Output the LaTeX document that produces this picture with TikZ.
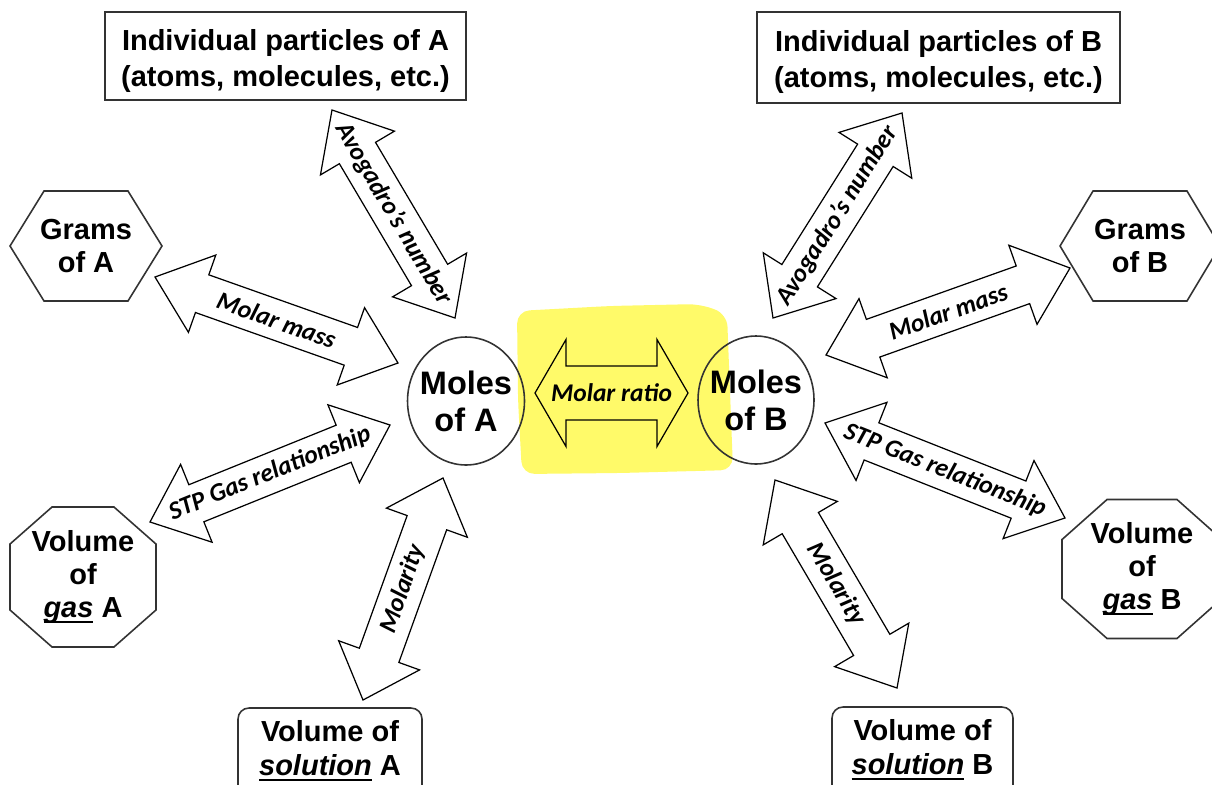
\documentclass[tikz,border=0pt]{standalone}
\usepackage{fontspec}
\usetikzlibrary{calc,shapes.geometric}
\newfontfamily\arialf{Liberation Sans}
\newfontfamily\calf{Carlito}
\definecolor{hlyellow}{RGB}{255,250,105}
\newcommand{\myul}[1]{\setbox0=\hbox{#1}\rlap{\rule[-3pt]{\wd0}{1.3pt}}\box0\relax}
\tikzset{
  outline/.style={draw=black!80, line width=0.9pt},
  txt/.style={align=center, text=black, inner sep=0pt, outer sep=0pt,
              font=\arialf\bfseries\fontsize{16.5}{18.8}\selectfont},
  ptxt/.style={txt, font=\arialf\bfseries\fontsize{16.5}{20.4}\selectfont},
  mtxt/.style={txt, font=\arialf\bfseries\fontsize{18.5}{21}\selectfont},
  barrow/.style={draw=black, line width=0.7pt, fill=white, line join=miter},
  ratioarrow/.style={draw=black, line width=0.7pt, line join=miter},
  alabel/.style={font=\calf\bfseries\itshape\fontsize{14.5}{16}\selectfont, inner sep=0pt, text=black}
}
% #1 style, #2 #3 tips, #4 shaft half width, #5 head half width, #6 head length, #7 label
\newcommand{\blockarrow}[7]{%
  \draw[#1] (#2)
    -- ($(#2)!#6!(#3)!#5!90:(#3)$)
    -- ($(#2)!#6!(#3)!#4!90:(#3)$)
    -- ($(#3)!#6!(#2)!#4!-90:(#2)$)
    -- ($(#3)!#6!(#2)!#5!-90:(#2)$)
    -- (#3)
    -- ($(#3)!#6!(#2)!#5!90:(#2)$)
    -- ($(#3)!#6!(#2)!#4!90:(#2)$)
    -- ($(#2)!#6!(#3)!#4!-90:(#3)$)
    -- ($(#2)!#6!(#3)!#5!-90:(#3)$)
    -- cycle;
  \path let \p1=($(#3)-(#2)$), \n1={atan2(\y1,\x1)} in
    node[alabel, rotate=\n1] at ($(#2)!0.5!(#3)$) {#7};
}
% hexagon around node #1 with horizontal chamfer #2 (px)
\newcommand{\hexa}[2]{%
  \draw[outline] (#1.west) -- ($(#1.north west)+(#2,0)$) -- ($(#1.north east)+(-#2,0)$)
    -- (#1.east) -- ($(#1.south east)+(-#2,0)$) -- ($(#1.south west)+(#2,0)$) -- cycle;
}
% octagon around node #1 with chamfers #2 (x) and #3 (y), px
\newcommand{\octa}[3]{%
  \draw[outline] ($(#1.north west)+(#2,0)$) -- ($(#1.north east)+(-#2,0)$)
    -- ($(#1.north east)+(0,#3)$) -- ($(#1.south east)+(0,-#3)$)
    -- ($(#1.south east)+(-#2,0)$) -- ($(#1.south west)+(#2,0)$)
    -- ($(#1.south west)+(0,-#3)$) -- ($(#1.north west)+(0,#3)$) -- cycle;
}
\begin{document}
\begin{tikzpicture}[x=0.02cm,y=-0.02cm]
\useasboundingbox (0,0) rectangle (1212,784);
\clip (0,0) rectangle (1212,784);

% highlight behind the molar ratio arrow
\fill[hlyellow, rounded corners=0.25cm] (517,311) -- (610,306) -- (700,304) -- (727,314)
  -- (733,470) -- (620,473) -- (522,474) -- (518,400) -- cycle;

% particles boxes
\node[ptxt] (pA) at (285.5,61) {Individual particles of A\\(atoms, molecules, etc.)};
\draw[outline] ($(pA.center)+(-180.5,-49)$) rectangle ($(pA.center)+(180.5,39)$);
\node[ptxt] (pB) at (938.5,62) {Individual particles of B\\(atoms, molecules, etc.)};
\draw[outline] ($(pB.center)+(-181.5,-50)$) rectangle ($(pB.center)+(181.5,41)$);

% grams hexagons
\node[txt, minimum width=3.04cm, minimum height=2.2cm] (gA) at (86,246) {Grams\\of A};
\hexa{gA}{34}
\node[txt, minimum width=3.2cm, minimum height=2.2cm] (gB) at (1140,246) {Grams\\of B};
\hexa{gB}{33}

% moles ellipses
\node[mtxt] (mA) at (466,401) {Moles\\of A};
\draw[outline] (mA.center) ellipse [x radius=1.17cm, y radius=1.28cm];
\node[mtxt] (mB) at (756,400) {Moles\\of B};
\draw[outline] (mB.center) ellipse [x radius=1.16cm, y radius=1.28cm];

% gas octagons
\node[txt, minimum width=2.92cm, minimum height=2.8cm] (vgA) at (83,577)
  {Volume\\of\\\myul{\itshape gas} A};
\octa{vgA}{42}{37}
\node[txt, minimum width=3.2cm, minimum height=2.78cm] (vgB) at (1142,569)
  {Volume\\of\\\myul{\itshape gas} B};
\octa{vgB}{45}{40}

% solution boxes
\node[txt, font=\arialf\bfseries\fontsize{16.5}{19.3}\selectfont] (vsA) at (330,751)
  {Volume of\\\myul{\itshape solution} A};
\draw[outline, rounded corners=0.22cm] ($(vsA.center)+(-92,-43)$) rectangle ($(vsA.center)+(92,55)$);
\node[txt, font=\arialf\bfseries\fontsize{16.5}{19.3}\selectfont] (vsB) at (922.5,750)
  {Volume of\\\myul{\itshape solution} B};
\draw[outline, rounded corners=0.22cm] ($(vsB.center)+(-90.5,-43)$) rectangle ($(vsB.center)+(90.5,55)$);

% arrow end points
\coordinate (avoA1) at (332,110); \coordinate (avoA2) at (455,318);
\coordinate (mmA1) at (155,277);  \coordinate (mmA2) at (398,363);
\coordinate (stpA1) at (150,522); \coordinate (stpA2) at (390,425);
\coordinate (molA1) at (363,700); \coordinate (molA2) at (443,478);
\coordinate (avoB1) at (773,318); \coordinate (avoB2) at (902,113);
\coordinate (mmB1) at (826,355);  \coordinate (mmB2) at (1070,268);
\coordinate (stpB1) at (825,423); \coordinate (stpB2) at (1065,518);
\coordinate (molB1) at (775,480); \coordinate (molB2) at (897,688);
\coordinate (rat1) at (535,393);  \coordinate (rat2) at (688,393);

\blockarrow{barrow}{avoA1}{avoA2}{0.42cm}{0.86cm}{1.0cm}{Avogadro’s number}
\blockarrow{barrow}{mmA1}{mmA2}{0.4cm}{0.82cm}{1.0cm}{Molar mass}
\blockarrow{barrow}{stpA1}{stpA2}{0.4cm}{0.84cm}{1.0cm}{STP Gas relationship}
\blockarrow{barrow}{molA1}{molA2}{0.42cm}{0.86cm}{0.95cm}{Molarity}
\blockarrow{barrow}{avoB1}{avoB2}{0.42cm}{0.86cm}{1.0cm}{Avogadro’s number}
\blockarrow{barrow}{mmB1}{mmB2}{0.4cm}{0.84cm}{1.0cm}{Molar mass}
\blockarrow{barrow}{stpB1}{stpB2}{0.4cm}{0.84cm}{1.0cm}{STP Gas relationship}
\blockarrow{barrow}{molB1}{molB2}{0.42cm}{0.86cm}{1.0cm}{Molarity}
\blockarrow{ratioarrow}{rat1}{rat2}{0.54cm}{1.07cm}{0.62cm}{Molar ratio}
\end{tikzpicture}
\end{document}
